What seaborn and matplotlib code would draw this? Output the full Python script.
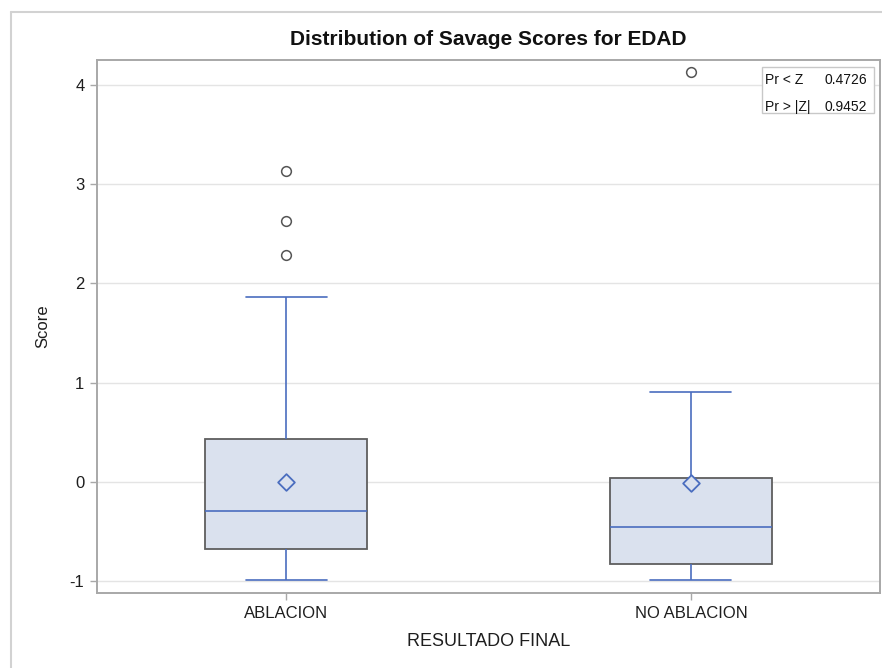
import matplotlib
matplotlib.use("Agg")
import matplotlib.pyplot as plt
from matplotlib.patches import Rectangle
from matplotlib.lines import Line2D
import pandas as pd
import seaborn as sns

# ---- data ----
groups = ["ABLACION", "NO ABLACION"]
whisker_low = [-0.987, -0.987]
q1 = [-0.672, -0.826]
median = [-0.292, -0.453]
q3 = [0.433, 0.040]
whisker_high = [1.864, 0.907]
means = [0.0, -0.01]
outlier_group = ["ABLACION", "ABLACION", "ABLACION", "NO ABLACION"]
outlier_score = [2.29, 2.63, 3.13, 4.13]
pr_labels = ["Pr < Z", "Pr > |Z|"]
pr_values = ["0.4726", "0.9452"]

# five-number summary per group -> boxplot input
box_df = pd.DataFrame({
    "group": [g for g in groups for _ in range(5)],
    "score": [v for i in range(len(groups))
              for v in (whisker_low[i], q1[i], median[i], q3[i], whisker_high[i])],
})

blue = "#4A6DBF"
fill = "#DAE1EE"
edge = "#5E5E5E"

sns.set_theme(style="white")
plt.rcParams["font.family"] = ["Liberation Sans", "DejaVu Sans"]

fig = plt.figure(figsize=(8.82, 6.68), dpi=100)
ax = fig.add_axes([97 / 882, 75 / 668, 783 / 882, 533 / 668])

sns.boxplot(
    data=box_df, x="group", y="score", order=groups, ax=ax,
    width=0.4, whis=1.5, showfliers=False, saturation=1,
    boxprops=dict(facecolor=fill, edgecolor=edge, linewidth=1.3),
    whiskerprops=dict(color=blue, linewidth=1.2),
    capprops=dict(color=blue, linewidth=1.2),
    medianprops=dict(color=blue, linewidth=1.2),
)

# outliers
sns.stripplot(x=outlier_group, y=outlier_score, order=groups, ax=ax,
              jitter=False, marker="o", size=7, color="white",
              edgecolor="#555555", linewidth=1.1, zorder=5)
# means
sns.stripplot(x=groups, y=means, order=groups, ax=ax,
              jitter=False, marker="D", size=8.5, color=fill,
              edgecolor=blue, linewidth=1.3, zorder=6)

ax.set_xlim(-0.467, 1.467)
ax.set_ylim(-1.12, 4.25)
ax.set_yticks([-1, 0, 1, 2, 3, 4])
ax.set_yticklabels(["-1", "0", "1", "2", "3", "4"])
ax.yaxis.grid(True, color="#E4E4E4", linewidth=1)
ax.set_axisbelow(True)
for s in ax.spines.values():
    s.set_color("#A8A8A8")
    s.set_linewidth(1.4)
ax.tick_params(axis="both", which="both", direction="out", length=5,
               width=1, color="#A8A8A8", labelsize=12, labelcolor="#1E1E1E",
               bottom=True, left=True, pad=4)

ax.set_xlabel("RESULTADO FINAL", fontsize=13, color="#1E1E1E", labelpad=9)
ax.set_ylabel("Score", fontsize=12, color="#1E1E1E", labelpad=14)
ax.set_title("Distribution of Savage Scores for EDAD", fontsize=15,
             fontweight="bold", color="#111111", pad=11)

# statistic inset
ax.add_patch(Rectangle((0.849, 0.9006), 0.143, 0.0864, transform=ax.transAxes,
                       facecolor="white", edgecolor="#C8C8C8", linewidth=1,
                       zorder=7))
for i, (lab, val) in enumerate(zip(pr_labels, pr_values)):
    yy = 0.962 - i * 0.051
    ax.text(0.853, yy, lab, transform=ax.transAxes, fontsize=10,
            ha="left", va="center", color="#111111", zorder=8)
    ax.text(0.984, yy, val, transform=ax.transAxes, fontsize=10,
            ha="right", va="center", color="#111111", zorder=8)

# outer frame of the graph
fig.add_artist(Line2D([11 / 882, 11 / 882], [0, 1 - 12 / 668],
                      transform=fig.transFigure, color="#D2D2D2", linewidth=1.5))
fig.add_artist(Line2D([11 / 882, 1], [1 - 12 / 668, 1 - 12 / 668],
                      transform=fig.transFigure, color="#D2D2D2", linewidth=1.5))

fig.savefig("out.png", dpi=100)
